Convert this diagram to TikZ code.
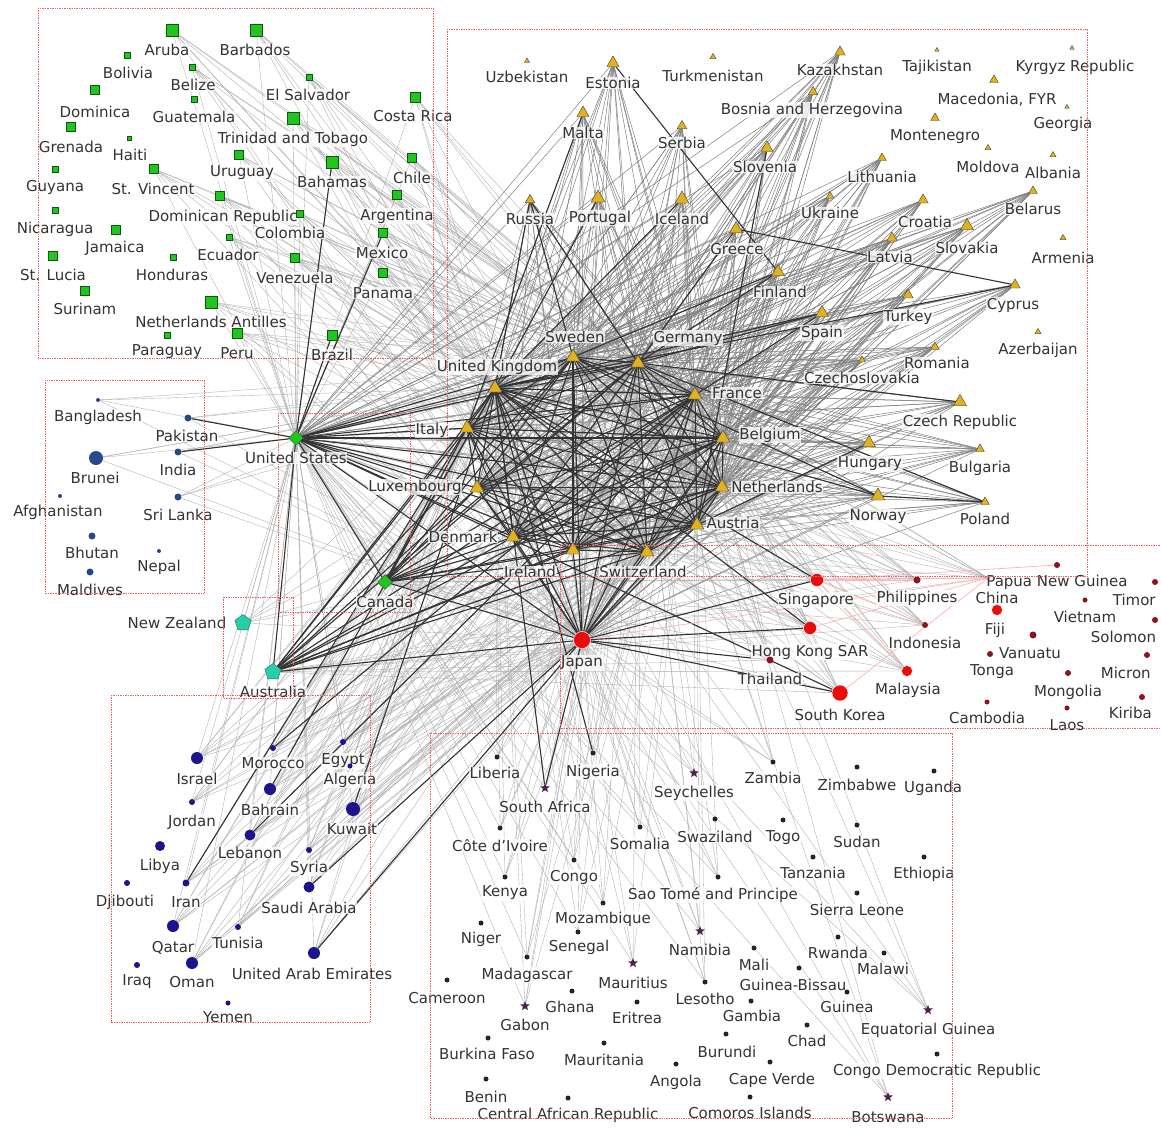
\documentclass[tikz,border=0pt]{standalone}
\usepackage{fontspec}
\setmainfont{DejaVu Sans}
\usetikzlibrary{shapes.geometric}
\pgfdeclarelayer{bg}
\pgfdeclarelayer{links}
\pgfsetlayers{bg,links,main}
\definecolor{latgreen}{RGB}{34,196,34}
\definecolor{eurgold}{RGB}{226,178,28}
\definecolor{sasblue}{RGB}{40,72,140}
\definecolor{oceteal}{RGB}{40,205,170}
\definecolor{menanavy}{RGB}{28,20,140}
\definecolor{asred}{RGB}{232,12,12}
\definecolor{asdark}{RGB}{140,20,30}
\definecolor{afrdark}{RGB}{40,32,48}
\definecolor{afrstar}{RGB}{80,30,80}
\definecolor{boxred}{RGB}{236,96,96}
\begin{document}
\begin{tikzpicture}[x=1pt,y=-1pt]
\tikzset{
  lbl/.style={font=\fontsize{15}{17}\selectfont, text=black!80, fill=white, fill opacity=0.75, text opacity=1, inner sep=0.6pt},
  lat/.style={rectangle, draw=latgreen!45!black, fill=latgreen, minimum size=#1pt, inner sep=0pt},
  eur/.style={regular polygon, regular polygon sides=3, draw=black!75, fill=eurgold, minimum size=#1pt, inner sep=0pt},
  sas/.style={circle, fill=sasblue, minimum size=#1pt, inner sep=0pt},
  nam/.style={diamond, draw=latgreen!45!black, fill=latgreen, minimum size=#1pt, inner sep=0pt},
  oce/.style={regular polygon, regular polygon sides=5, draw=oceteal!55!black, fill=oceteal, minimum size=#1pt, inner sep=0pt},
  mena/.style={circle, fill=menanavy, minimum size=#1pt, inner sep=0pt},
  eas/.style={circle, draw=white, fill=asred, minimum size=#1pt, inner sep=0pt},
  easd/.style={circle, fill=asdark, minimum size=#1pt, inner sep=0pt},
  afr/.style={circle, fill=afrdark, minimum size=#1pt, inner sep=0pt},
  afs/.style={star, star points=5, star point ratio=2.3, fill=afrstar, minimum size=#1pt, inner sep=0pt},
  lite/.style={draw=black!32, line width=0.35pt},
  mid/.style={draw=black!50, line width=0.5pt},
  dark/.style={draw=black!80, line width=1.1pt},
  rosy/.style={draw=red!30, line width=0.7pt},
  grp/.style={draw=boxred, densely dotted, line width=0.7pt}
}
\useasboundingbox (0,0) rectangle (1161,1127);
\begin{pgfonlayer}{bg}
  \fill[white] (0,0) rectangle (1161,1127);
\end{pgfonlayer}

\foreach \n/\x/\y/\sz/\lx/\ly/\lab in {
  aru/172/30/12/167/50/Aruba, bar/256/30/12/255/50/Barbados, bol/127/55/6/128/73/Bolivia,
  blz/192/67/6/193/85/Belize, esv/309/77/6/308/95/El Salvador, dma/95/90/9/95/112/Dominica,
  gua/194/99/6/194/117/Guatemala, cri/415/97/10/413/116/Costa Rica,
  tto/293/118/12/293/139/Trinidad and Tobago, grd/71/127/9/71/147/Grenada, hti/129/138/4/130/155/Haiti,
  guy/55/169/6/55/187/Guyana, vct/154/169/9/153/189/St. Vincent, ury/239/155/9/242/173/Uruguay,
  bhs/332/162/12/332/182/Bahamas, chl/412/158/9/412/178/Chile, dom/220/196/9/223/217/Dominican Republic,
  arg/397/195/9/397/216/Argentina, nic/55/210/6/55/229/Nicaragua, jam/116/230/9/115/248/Jamaica,
  ecu/229/237/6/228/255/Ecuador, col/300/214/7/290/233/Colombia, mex/383/233/9/382/253/Mexico,
  hnd/173/257/6/172/275/Honduras, ven/295/258/9/295/278/Venezuela, lca/53/256/9/53/275/St. Lucia,
  sur/85/291/9/85/309/Surinam, ant/211/302/12/211/322/Netherlands Antilles, pan/383/273/9/383/293/Panama,
  pry/167/335/6/167/352/Paraguay, per/237/333/10/237/353/Peru, bra/332/335/10/332/355/Brazil}
{
  \node[lat=\sz] (\n) at (\x,\y) {};
  \node[lbl] (l\n) at (\lx,\ly) {\lab};
}

\foreach \n/\x/\y/\sz/\lx/\ly/\lab in {
  uzb/527/61/6/527/77/Uzbekistan, est/613/63/14/613/83/Estonia, tkm/713/57/7/713/76/Turkmenistan,
  kaz/840/52/12/840/70/Kazakhstan, tjk/937/50/5/937/67/Tajikistan, kgz/1072/48/5/1075/67/Kyrgyz Republic,
  mlt/583/113/14/583/133/Malta, srb/682/126/11/682/143/Serbia, bih/813/92/11/812/110/Bosnia and Herzegovina,
  mkd/994/80/10/997/100/{Macedonia, FYR}, geo/1067/107/5/1063/124/Georgia, mne/935/118/10/935/137/Montenegro,
  svn/767/148/14/765/167/Slovenia, ltu/882/158/10/882/177/Lithuania, mda/988/148/7/988/167/Moldova,
  alb/1053/155/7/1053/173/Albania, rus/530/200/11/530/219/Russia, prt/598/198/16/600/218/Portugal,
  isl/682/199/16/682/219/Iceland, ukr/830/196/9/830/213/Ukraine, hrv/923/200/12/925/222/Croatia,
  blr/1033/191/10/1033/209/Belarus, grc/736/229/15/737/249/Greece, svk/967/226/15/967/248/Slovakia,
  lva/892/238/12/890/257/Latvia, arm/1063/238/7/1063/258/Armenia, fin/778/272/15/780/292/Finland,
  cyp/1015/285/12/1013/305/Cyprus, tur/908/295/12/908/317/Turkey, esp/822/313/15/822/333/Spain,
  aze/1038/332/7/1038/350/Azerbaijan, rou/935/347/10/937/363/Romania, csk/862/360/8/862/378/Czechoslovakia,
  cze/960/402/15/960/422/Czech Republic, hun/869/443/15/870/464/Hungary, bgr/980/449/10/980/468/Bulgaria,
  nor/878/496/16/878/517/Norway, pol/985/502/10/985/519/Poland,
  swe/573/357/16/575/337/Sweden, deu/638/363/16/688/338/Germany, gbr/495/388/16/497/367/United Kingdom,
  fra/695/395/16/737/393/France, ita/467/428/16/432/430/Italy, bel/723/438/16/770/435/Belgium,
  lux/477/488/16/415/487/Luxembourg, nld/722/487/16/777/487/Netherlands, aut/697/525/16/733/523/Austria,
  dnk/513/537/16/463/537/Denmark, irl/573/550/16/530/572/Ireland, che/647/552/16/643/572/Switzerland}
{
  \node[eur=\sz] (\n) at (\x,\y) {};
  \node[lbl] (l\n) at (\lx,\ly) {\lab};
}

\foreach \n/\x/\y/\sz/\lx/\ly/\lab in {
  bgd/98/400/4/98/417/Bangladesh, pak/188/418/7/187/436/Pakistan, brn/96/458/14/95/478/Brunei,
  ind/178/452/7/178/470/India, afg/60/496/4/58/512/Afghanistan, lka/178/497/7/178/515/Sri Lanka,
  btn/92/536/7/92/553/Bhutan, npl/159/551/4/159/567/Nepal, mdv/90/572/7/90/590/Maldives}
{
  \node[sas=\sz] (\n) at (\x,\y) {};
  \node[lbl] (l\n) at (\lx,\ly) {\lab};
}

\node[nam=15] (usa) at (296,438) {};
\node[lbl] (lusa) at (296,458) {United States};
\node[nam=15] (can) at (385,582) {};
\node[lbl] (lcan) at (385,602) {Canada};
\node[oce=17] (nzl) at (243,623) {};
\node[lbl] (lnzl) at (177,623) {New Zealand};
\node[oce=17] (aus) at (273,672) {};
\node[lbl] (laus) at (273,692) {Australia};

\foreach \n/\x/\y/\sz/\lx/\ly/\lab in {
  isr/197/758/12/197/779/Israel, mar/273/748/6/273/763/Morocco, egy/343/742/6/343/761/Egypt,
  dza/350/766/5/350/780/Algeria, jor/192/802/6/192/822/Jordan, bhr/270/789/12/270/810/Bahrain,
  kwt/353/809/14/352/829/Kuwait, lby/160/846/10/160/866/Libya, lbn/250/835/11/250/853/Lebanon,
  syr/309/850/6/309/868/Syria, dji/127/883/6/125/902/Djibouti, irn/186/883/7/186/902/Iran,
  sau/309/887/11/309/908/Saudi Arabia, qat/173/926/12/173/948/Qatar, tun/238/927/6/238/943/Tunisia,
  are/314/953/12/312/974/United Arab Emirates, irq/137/965/6/137/982/Iraq, omn/192/963/12/192/982/Oman,
  yem/228/1003/5/228/1017/Yemen}
{
  \node[mena=\sz] (\n) at (\x,\y) {};
  \node[lbl] (l\n) at (\lx,\ly) {\lab};
}

\foreach \n/\x/\y/\lx/\ly/\lab in {
  lbr/497/757/495/773/Liberia, nga/593/753/593/772/Nigeria, zmb/773/762/773/778/Zambia,
  zwe/857/767/857/785/Zimbabwe, uga/934/771/933/788/Uganda, civ/500/828/500/846/Côte d'Ivoire,
  som/640/827/640/844/Somalia, swz/715/819/715/837/Swaziland, tgo/783/820/783/838/Togo,
  sdn/857/825/857/842/Sudan, cog/574/860/574/877/Congo, ken/505/877/505/893/Kenya,
  tza/813/857/813/873/Tanzania, eth/924/857/924/874/Ethiopia, stp/718/877/713/895/Sao Tomé and Principe,
  sle/857/893/857/910/Sierra Leone, moz/603/903/603/919/Mozambique, ner/481/923/481/939/Niger,
  sen/578/932/579/947/Senegal, mli/754/948/754/965/Mali, rwa/838/937/838/953/Rwanda,
  mwi/884/953/883/969/Malawi, mdg/527/957/527/975/Madagascar, gnb/799/968/793/985/Guinea-Bissau,
  cmr/447/980/447/998/Cameroon, lso/705/982/705/999/Lesotho, gha/572/991/570/1007/Ghana,
  eri/637/1002/637/1018/Eritrea, gmb/751/1001/752/1016/Gambia, gin/847/992/847/1007/Guinea,
  tcd/807/1025/807/1041/Chad, bfa/488/1038/487/1054/Burkina Faso, mrt/604/1043/604/1060/Mauritania,
  bdi/726/1034/727/1052/Burundi, ago/676/1064/676/1082/Angola, cpv/770/1062/772/1080/Cape Verde,
  cod/937/1054/937/1071/Congo Democratic Republic, ben/486/1079/486/1097/Benin,
  caf/568/1098/568/1115/Central African Republic, com/750/1097/750/1113/Comoros Islands}
{
  \node[afr=5] (\n) at (\x,\y) {};
  \node[lbl] (l\n) at (\lx,\ly) {\lab};
}
\foreach \n/\x/\y/\lx/\ly/\lab in {
  zaf/545/788/545/807/South Africa, syc/694/773/694/793/Seychelles, nam/700/931/700/950/Namibia,
  mus/633/963/633/983/Mauritius, gab/525/1006/525/1025/Gabon, gnq/928/1010/928/1030/Equatorial Guinea,
  bwa/888/1097/888/1117/Botswana}
{
  \node[afs=10] (\n) at (\x,\y) {};
  \node[lbl] (l\n) at (\lx,\ly) {\lab};
}

\foreach \n/\x/\y/\sz/\lx/\ly/\lab in {
  jpn/582/640/17/582/663/Japan, sgp/817/580/13/816/600/Singapore, hkg/810/628/13/810/652/Hong Kong SAR,
  kor/840/693/16/840/715/South Korea, mys/907/671/11/908/690/Malaysia, fji/997/610/11/995/630/Fiji}
{
  \node[eas=\sz] (\n) at (\x,\y) {};
  \node[lbl] (l\n) at (\lx,\ly) {\lab};
}
\foreach \n/\x/\y/\sz/\lx/\ly/\lab in {
  tha/770/660/7/770/679/Thailand, phl/917/580/7/917/598/Philippines, idn/925/625/6/925/643/Indonesia,
  chn/988/578/5/997/598/China, png/1057/565/6/1057/582/Papua New Guinea, vnm/1085/600/5/1085/617/Vietnam,
  ton/990/654/6/992/672/Tonga, vut/1033/635/7/1030/653/Vanuatu, mng/1068/673/6/1068/692/Mongolia,
  khm/987/702/5/987/718/Cambodia, lao/1067/708/5/1067/725/Laos}
{
  \node[easd=\sz] (\n) at (\x,\y) {};
  \node[lbl] (l\n) at (\lx,\ly) {\lab};
}
\foreach \n/\x/\y/\lx/\ly/\lab in {
  tls/1155/582/1112/600/Timor, slb/1155/620/1090/637/Solomon,
  fsm/1147/655/1100/673/Micron, kir/1142/697/1108/713/Kiriba}
{
  \node[easd=6] (\n) at (\x,\y) {};
  \node[lbl, anchor=west] (l\n) at (\lx,\ly) {\lab};
}

\begin{pgfonlayer}{links}
  \foreach \h in {usa,gbr,deu,fra,nld,che,jpn}
    \foreach \p in {aru,bar,blz,esv,cri,tto,ury,bhs,chl,arg,mex,ven,col,pan,bra,per,ant,dom,vct,ecu}
      \draw[lite] (\h) -- (\p);
  \foreach \h in {gbr,swe,deu,fra,ita,bel,lux,nld,aut,dnk,irl,che,usa,jpn}
    \foreach \p in {est,mlt,srb,bih,svn,rus,prt,isl,ukr,hrv,grc,svk,lva,ltu,fin,cyp,tur,esp,rou,csk,cze,hun,bgr,nor,pol,kaz,blr}
      \draw[mid] (\h) -- (\p);
  \foreach \h in {gbr,deu,fra,nld,che,swe,ita,bel,usa,aus,can}
    \foreach \p in {sgp,hkg,kor,tha,mys,phl,idn,chn}
      \draw[lite] (\h) -- (\p);
  \foreach \h in {gbr,deu,fra,ita,jpn,usa,che,nld}
    \foreach \p in {isr,mar,egy,dza,bhr,kwt,lbn,sau,are,qat,omn,irn,syr,tun,jor}
      \draw[lite] (\h) -- (\p);
  \foreach \h in {gbr,fra,jpn,usa,deu}
    \foreach \p in {zaf,nga,lbr,syc,som,civ,cog,ken,moz,mus,nam,zmb,sen,mdg,gab,stp,bwa,gnq,lso}
      \draw[lite] (\h) -- (\p);
  \foreach \h in {usa,gbr,jpn,deu}
    \foreach \p in {pak,ind,brn,bgd,lka}
      \draw[lite] (\h) -- (\p);
  \foreach \h in {gbr,deu,fra,usa,jpn,nld,che}
    \draw[lite] (\h) -- (nzl);
  \foreach \a [count=\i] in {gbr,swe,deu,fra,ita,bel,lux,nld,aut,dnk,irl,che,usa,jpn}
    \foreach \b [count=\j] in {gbr,swe,deu,fra,ita,bel,lux,nld,aut,dnk,irl,che,usa,jpn}
      {\ifnum\j>\i \draw[dark] (\a) -- (\b); \fi}
  \foreach \h in {can,aus}
    \foreach \c in {gbr,swe,deu,fra,ita,bel,lux,nld,aut,dnk,irl,che,jpn}
      \draw[dark] (\h) -- (\c);
  \foreach \a/\b in {usa/can,usa/aus,usa/bhs,usa/mex,usa/bra,usa/pak,usa/ind,jpn/sgp,jpn/hkg,jpn/kor,jpn/tha,
    rus/gbr,rus/deu,rus/swe,esp/deu,esp/fra,esp/gbr,nor/swe,nor/gbr,nor/pol,fin/swe,fin/deu,prt/gbr,isl/gbr,
    cyp/gbr,cyp/grc,pol/deu,grc/deu,cze/deu,hun/aut,svn/aut,est/fin,mlt/ita,
    irn/ita,sau/jpn,are/jpn,kwt/gbr,bhr/gbr,lbn/fra,mar/fra,zaf/gbr,zaf/jpn,nga/gbr,sgp/gbr,hkg/gbr,kor/usa}
    \draw[dark] (\a) -- (\b);
  \foreach \a/\b in {sgp/chn,sgp/phl,hkg/chn,sgp/png,jpn/chn,kor/chn,mys/sgp,idn/sgp}
    \draw[rosy] (\a) -- (\b);
\end{pgfonlayer}

\draw[grp] (38,8) rectangle (433,358);
\draw[grp] (447,29) rectangle (1087,576);
\draw[grp] (45,380) rectangle (204,593);
\draw[grp] (278,413) rectangle (410,612);
\draw[grp] (223,597) rectangle (293,698);
\draw[grp] (111,695) rectangle (370,1022);
\draw[grp] (430,733) rectangle (952,1118);
\draw[grp] (560,545) rectangle (1170,728);
\end{tikzpicture}
\end{document}
